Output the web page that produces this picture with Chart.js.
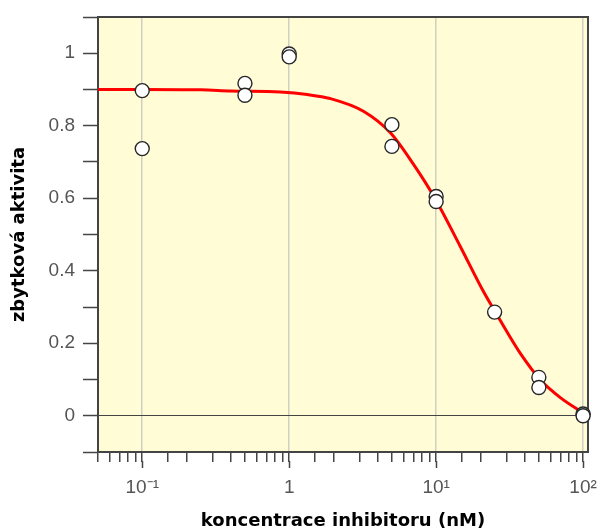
<!DOCTYPE html>
<html>
<head>
<meta charset="utf-8">
<script src="https://cdn.jsdelivr.net/npm/chart.js@4"></script>
<style>
  body { margin: 0; background: #fff; }
  canvas { display: block; }
</style>
</head>
<body>
<canvas id="chart" width="598" height="532"></canvas>
<script>
// measured points (two replicates per concentration)
const concentration = [0.1, 0.1, 0.5, 0.5, 1, 1, 5, 5, 10, 10, 25, 50, 50, 100, 100];
const activity = [0.897, 0.737, 0.917, 0.884, 0.998, 0.99, 0.803, 0.743, 0.605, 0.591, 0.286, 0.106, 0.078, 0.005, 0.0];

// fitted dose-response curve
const fitX = [0.05, 0.1, 0.25, 0.4, 0.87, 1.33, 1.9, 3.2, 4.9, 7, 9.8, 14.6, 20.9, 25.2, 30.4, 37.3, 51, 70, 100];
const fitY = [0.9, 0.9, 0.899, 0.896, 0.893, 0.886, 0.875, 0.84, 0.78, 0.694, 0.60, 0.467, 0.344, 0.287, 0.231, 0.173, 0.10, 0.05, 0.008];

const decadeTicks = [0.1, 1, 10, 100];
const decadeLabels = ['10⁻¹', '1', '10¹', '10²'];

const frameColor = '#444';
const plotFill = '#fffcd6';

const isDecade = (v) => Math.abs(Math.log10(v) - Math.round(Math.log10(v))) < 1e-6;

const frame = {
    id: 'frame',
    beforeDraw(chart) {
        const { ctx, chartArea: a } = chart;
        ctx.save();
        ctx.fillStyle = plotFill;
        ctx.fillRect(a.left, a.top, a.right - a.left, a.bottom - a.top);
        ctx.restore();
    },
    beforeDatasetsDraw(chart) {
        const { ctx, chartArea: a } = chart;
        ctx.save();
        ctx.strokeStyle = frameColor;
        ctx.lineWidth = 2;
        ctx.strokeRect(a.left, a.top, a.right - a.left, a.bottom - a.top);
        // longer tick marks at each decade
        const x = chart.scales.x;
        ctx.lineWidth = 1.5;
        x.ticks.forEach(t => {
            if (!isDecade(t.value)) return;
            const px = Math.round(x.getPixelForValue(t.value)) + 0.5;
            ctx.beginPath();
            ctx.moveTo(px, a.bottom + 9);
            ctx.lineTo(px, a.bottom + 16);
            ctx.stroke();
        });
        ctx.restore();
    }
};

new Chart(document.getElementById('chart'), {
    type: 'scatter',
    data: {
        datasets: [{
            label: 'měření',
            data: concentration.map((c, i) => ({ x: c, y: activity[i] })),
            pointRadius: 7,
            pointHoverRadius: 7,
            backgroundColor: '#ffffff',
            borderColor: '#262626',
            borderWidth: 1.4,
            clip: false,
        }, {
            label: 'fit',
            data: fitX.map((c, i) => ({ x: c, y: fitY[i] })),
            showLine: true,
            pointRadius: 0,
            borderColor: '#ff0000',
            borderWidth: 3,
            cubicInterpolationMode: 'monotone',
        }]
    },
    options: {
        responsive: false,
        animation: false,
        layout: { padding: { top: 17, right: 10, left: 0, bottom: 0 } },
        scales: {
            x: {
                type: 'logarithmic',
                min: 0.05,
                max: 108,
                afterBuildTicks(scale) {
                    scale.ticks = scale.ticks.filter(t => t.value <= 100.0001);
                },
                afterFit(scale) {
                    scale.height = 80;
                    scale.paddingLeft = 0;
                    scale.paddingRight = 0;
                },
                border: { display: false },
                grid: {
                    color: (c) => (c.tick && isDecade(c.tick.value) && c.tick.value > 0.06) ? '#cfcfc4' : 'rgba(0,0,0,0)',
                    lineWidth: 1.5,
                    tickColor: frameColor,
                    tickLength: 10,
                    tickWidth: 1.5,
                },
                ticks: {
                    autoSkip: false,
                    maxRotation: 0,
                    padding: 14,
                    color: '#555',
                    font: { family: '"Liberation Sans", Arial, sans-serif', size: 19 },
                    callback: (v) => {
                        const k = decadeTicks.findIndex(d => Math.abs(d - v) < 1e-9 * d);
                        return k >= 0 ? decadeLabels[k] : '';
                    }
                },
                title: {
                    display: true,
                    text: 'koncentrace inhibitoru (nM)',
                    color: '#000',
                    padding: 0,
                    font: { family: '"DejaVu Sans", sans-serif', size: 18, weight: 'bold' }
                }
            },
            y: {
                min: -0.1,
                max: 1.1,
                afterFit(scale) {
                    scale.width = 98;
                    scale.paddingTop = 0;
                    scale.paddingBottom = 0;
                },
                border: { display: false },
                grid: {
                    color: (c) => (c.tick && Math.abs(c.tick.value) < 1e-9) ? frameColor : 'rgba(0,0,0,0)',
                    lineWidth: 1,
                    tickColor: frameColor,
                    tickLength: 15,
                    tickWidth: 1.5,
                },
                ticks: {
                    stepSize: 0.1,
                    autoSkip: false,
                    padding: 8,
                    color: '#555',
                    font: { family: '"Liberation Sans", Arial, sans-serif', size: 19 },
                    callback: (v) => {
                        const n = Math.round(v * 10);
                        if (n < 0 || n > 10 || n % 2 !== 0) return '';
                        return String(n / 10);
                    }
                },
                title: {
                    display: true,
                    text: 'zbytková aktivita',
                    color: '#000',
                    padding: { top: 9 },
                    font: { family: '"DejaVu Sans", sans-serif', size: 18, weight: 'bold' }
                }
            }
        },
        plugins: {
            legend: { display: false },
            tooltip: { enabled: false }
        }
    },
    plugins: [frame]
});
</script>
</body>
</html>
